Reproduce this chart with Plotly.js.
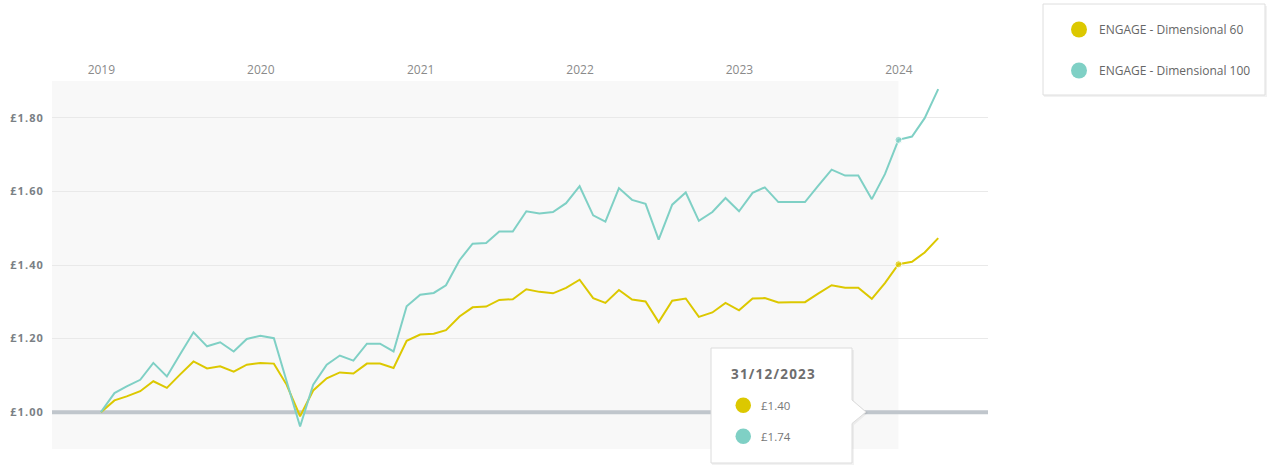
<!DOCTYPE html>
<html>
<head>
<meta charset="utf-8">
<script src="https://cdn.plot.ly/plotly-3.0.1.min.js"></script>
<style>
  html, body { margin: 0; padding: 0; background: #ffffff; }
  #chart { width: 1268px; height: 466px; }
  .ytick text { letter-spacing: 1.1px; }
  .annotation[data-index="0"] text { letter-spacing: 1.2px; }
</style>
</head>
<body>
<div id="chart"></div>
<script>
// ---- DATA ----
const dates = [
  '2018-12-31',
  '2019-01-31','2019-02-28','2019-03-31','2019-04-30','2019-05-31','2019-06-30',
  '2019-07-31','2019-08-31','2019-09-30','2019-10-31','2019-11-30','2019-12-31',
  '2020-01-31','2020-02-29','2020-03-31','2020-04-30','2020-05-31','2020-06-30',
  '2020-07-31','2020-08-31','2020-09-30','2020-10-31','2020-11-30','2020-12-31',
  '2021-01-31','2021-02-28','2021-03-31','2021-04-30','2021-05-31','2021-06-30',
  '2021-07-31','2021-08-31','2021-09-30','2021-10-31','2021-11-30','2021-12-31',
  '2022-01-31','2022-02-28','2022-03-31','2022-04-30','2022-05-31','2022-06-30',
  '2022-07-31','2022-08-31','2022-09-30','2022-10-31','2022-11-30','2022-12-31',
  '2023-01-31','2023-02-28','2023-03-31','2023-04-30','2023-05-31','2023-06-30',
  '2023-07-31','2023-08-31','2023-09-30','2023-10-31','2023-11-30','2023-12-31',
  '2024-01-31','2024-02-29','2024-03-31'
];

const dimensional60 = [
  1.000,1.032,1.043,1.057,1.084,1.066,1.102,1.138,1.119,1.125,
  1.110,1.129,1.134,1.132,1.075,0.989,1.059,1.092,1.108,1.105,
  1.132,1.132,1.120,1.194,1.211,1.213,1.223,1.260,1.285,1.287,
  1.305,1.307,1.334,1.327,1.323,1.338,1.360,1.310,1.297,1.332,
  1.306,1.301,1.245,1.303,1.309,1.259,1.271,1.297,1.277,1.309,
  1.310,1.298,1.299,1.299,1.322,1.345,1.338,1.338,1.308,1.351,
  1.402,1.409,1.434,1.473
];

const dimensional100 = [
  1.000,1.052,1.070,1.088,1.134,1.097,1.157,1.217,1.179,1.190,
  1.165,1.199,1.208,1.201,1.085,0.961,1.075,1.129,1.154,1.140,
  1.186,1.186,1.165,1.288,1.319,1.324,1.345,1.413,1.458,1.460,
  1.491,1.491,1.546,1.540,1.544,1.568,1.614,1.535,1.518,1.609,
  1.577,1.566,1.469,1.564,1.597,1.520,1.544,1.582,1.546,1.596,
  1.611,1.571,1.571,1.571,1.615,1.659,1.643,1.643,1.579,1.647,
  1.740,1.749,1.799,1.878
];

const seriesNames = ['ENGAGE - Dimensional 60', 'ENGAGE - Dimensional 100'];
const seriesColors = ['#dcc800', '#7fd0c5'];
const yearTickVals = ['2019-01-01','2020-01-01','2021-01-01','2022-01-01','2023-01-01','2024-01-01'];
const yearTickText = ['2019','2020','2021','2022','2023','2024'];
const highlightDate = '2023-12-31';
const baselineValue = 1.0;

// ---- LAYOUT HELPERS (pixel -> paper) ----
const W = 1268, H = 466;
const PL = 52, PR = 988, PT = 81, PB = 449;
const px = x => (x - PL) / (PR - PL);
const py = y => (PB - y) / (PB - PT);
const xRange = ['2018-09-10', '2024-07-23'];

const hi = dates.indexOf(highlightDate);
const seriesData = [dimensional60, dimensional100];

const traces = [];
seriesData.forEach((vals, k) => {
  traces.push({
    type: 'scatter', mode: 'lines+markers',
    x: dates, y: vals,
    line: { color: seriesColors[k], width: 2 },
    marker: { color: seriesColors[k], size: dates.map((d, i) => i === hi ? 7 : 0) },
    showlegend: false, hoverinfo: 'skip'
  });
});
// legend entries
seriesData.forEach((vals, k) => {
  traces.push({
    type: 'scatter', mode: 'markers',
    x: [null], y: [null],
    name: seriesNames[k],
    legendgroup: 'g' + k,
    marker: { color: seriesColors[k], size: 16, symbol: 'circle' },
    showlegend: true, hoverinfo: 'skip'
  });
});

// tooltip text
const p = highlightDate.split('-');
const tipTitle = p[2] + '/' + p[1] + '/' + p[0];

const tipPath = 'M' + px(711) + ',' + py(348) +
  ' L' + px(852) + ',' + py(348) +
  ' L' + px(852) + ',' + py(400) +
  ' L' + px(866) + ',' + py(412) +
  ' L' + px(852) + ',' + py(423.5) +
  ' L' + px(852) + ',' + py(463) +
  ' L' + px(711) + ',' + py(463) + ' Z';
const tipShadowPath = 'M' + px(712) + ',' + py(350) +
  ' L' + px(854) + ',' + py(350) +
  ' L' + px(854) + ',' + py(401) +
  ' L' + px(868) + ',' + py(413) +
  ' L' + px(854) + ',' + py(425) +
  ' L' + px(854) + ',' + py(465) +
  ' L' + px(712) + ',' + py(465) + ' Z';

const shapes = [
  // shaded past-period background
  { type: 'rect', xref: 'x', yref: 'paper', x0: xRange[0], x1: highlightDate, y0: 0, y1: 1,
    fillcolor: '#f8f8f8', line: { width: 0 }, layer: 'below' },
  // baseline £1.00
  { type: 'line', xref: 'x', yref: 'y', x0: xRange[0], x1: xRange[1], y0: baselineValue, y1: baselineValue,
    line: { color: '#c0c6cc', width: 4 }, layer: 'between' },
  // legend box shadow + box
  { type: 'rect', xref: 'paper', yref: 'paper', x0: px(1044), x1: px(1267), y0: py(6), y1: py(97),
    fillcolor: 'rgba(0,0,0,0.05)', line: { width: 0 }, layer: 'above' },
  { type: 'rect', xref: 'paper', yref: 'paper', x0: px(1043), x1: px(1265), y0: py(4), y1: py(95),
    fillcolor: '#ffffff', line: { color: '#dedede', width: 1 }, layer: 'above' },
  // tooltip shadow + box
  { type: 'path', xref: 'paper', yref: 'paper', path: tipShadowPath,
    fillcolor: 'rgba(0,0,0,0.05)', line: { width: 0 }, layer: 'above' },
  { type: 'path', xref: 'paper', yref: 'paper', path: tipPath,
    fillcolor: '#ffffff', line: { color: '#dcdcdc', width: 1 }, layer: 'above' },
  // tooltip dots
  { type: 'circle', xref: 'paper', yref: 'paper', x0: px(735.5), x1: px(751), y0: py(397.5), y1: py(413),
    fillcolor: seriesColors[0], line: { width: 0 }, layer: 'above' },
  { type: 'circle', xref: 'paper', yref: 'paper', x0: px(735.5), x1: px(751), y0: py(428.5), y1: py(444),
    fillcolor: seriesColors[1], line: { width: 0 }, layer: 'above' }
];

const annotations = [
  { xref: 'paper', yref: 'paper', x: px(735), y: py(374), xanchor: 'left', yanchor: 'middle',
    text: '<b>' + tipTitle + '</b>', showarrow: false,
    font: { family: 'Open Sans, sans-serif', size: 13.5, color: '#6e6e6e' } },
  { xref: 'paper', yref: 'paper', x: px(759), y: py(405.5), xanchor: 'left', yanchor: 'middle',
    text: '£' + dimensional60[hi].toFixed(2), showarrow: false,
    font: { family: 'Open Sans, sans-serif', size: 11.5, color: '#777777' } },
  { xref: 'paper', yref: 'paper', x: px(759), y: py(436.5), xanchor: 'left', yanchor: 'middle',
    text: '£' + dimensional100[hi].toFixed(2), showarrow: false,
    font: { family: 'Open Sans, sans-serif', size: 11.5, color: '#777777' } }
];

const layout = {
  width: W, height: H,
  margin: { l: PL, r: W - PR, t: PT, b: H - PB, pad: 0 },
  paper_bgcolor: '#ffffff',
  plot_bgcolor: '#ffffff',
  showlegend: true,
  hovermode: false,
  legend: {
    x: px(1059), y: py(15), xanchor: 'left', yanchor: 'top',
    bgcolor: 'rgba(0,0,0,0)', borderwidth: 0,
    tracegroupgap: 22,
    font: { family: 'Open Sans, sans-serif', size: 12, color: '#666666' },
    itemclick: false, itemdoubleclick: false
  },
  xaxis: {
    type: 'date',
    range: xRange,
    side: 'top',
    tickmode: 'array', tickvals: yearTickVals, ticktext: yearTickText,
    showgrid: false, zeroline: false, showline: false, ticks: '',
    ticklabelstandoff: 4,
    tickfont: { family: 'Open Sans, sans-serif', size: 12, color: '#8a8a8a' },
    fixedrange: true
  },
  yaxis: {
    range: [0.9, 1.9],
    tick0: 1.0, dtick: 0.2,
    tickprefix: '£', tickformat: '.2f',
    showgrid: true, gridcolor: '#e9e9e9', gridwidth: 1,
    zeroline: false, showline: false, ticks: '',
    ticklabelstandoff: 7,
    tickfont: { family: 'Open Sans, sans-serif', size: 11, color: '#7a7f85', weight: 'bold' },
    fixedrange: true
  },
  shapes: shapes,
  annotations: annotations
};

Plotly.newPlot('chart', traces, layout, { displayModeBar: false, staticPlot: true });
</script>
</body>
</html>
